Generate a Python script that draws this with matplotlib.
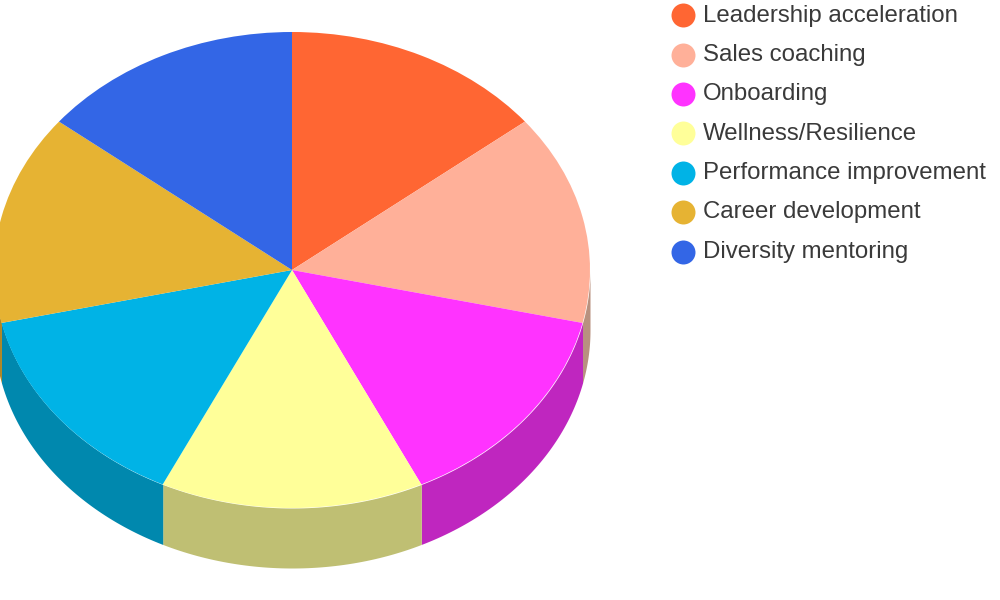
import numpy as np
from matplotlib import pyplot as plt

labels = ['Leadership acceleration', 'Sales coaching', 'Onboarding', 'Wellness/Resilience',
          'Performance improvement', 'Career development', 'Diversity mentoring']
values = [1, 1, 1, 1, 1, 1, 1]
colors = ['#FF6633', '#FFB099', '#FF33FF', '#FFFF99', '#00B3E6', '#E6B333', '#3366E6']
side_colors = ['#BF4D26', '#B8917F', '#BF26BF', '#BFBF73', '#0088AE', '#AD8626', '#264DAD']

W, H = 1000, 600
cx, cy = 292, 270    # pie centre in pixels
rx, ry = 298, 238    # the squashed radii
depth = 60 / ry      # side height, in pie units

fig = plt.figure(figsize=(W / 100, H / 100), dpi=100)
ax = fig.add_axes([(cx - rx) / W, (H - cy - ry) / H, 2 * rx / W, 2 * ry / H])

# wedge edges, clockwise from 12 o'clock like the pie itself
edges = 90 - 360 * np.cumsum([0] + values) / sum(values)

# side wall: only the part of each wedge below the horizontal shows
for i in range(len(values)):
    hi = min(edges[i], 0)
    lo = max(edges[i + 1], -180)
    if hi <= lo:
        continue
    t = np.radians(np.linspace(lo, hi, 60))
    ax.fill_between(np.cos(t), np.sin(t), np.sin(t) - depth, color=side_colors[i], lw=0, clip_on=False)

ax.pie(values, colors=colors, startangle=90, counterclock=False, radius=1,
       wedgeprops={'linewidth': 0})
ax.set_aspect('auto')
ax.set_xlim(-1, 1)
ax.set_ylim(-1, 1)
ax.axis('off')
for p in ax.patches:
    p.set_clip_on(False)

# legend, laid out by hand in pixel coordinates
leg = fig.add_axes([0, 0, 1, 1], facecolor='none')
leg.set_xlim(0, W)
leg.set_ylim(H, 0)
leg.axis('off')
legend_y = [15.3, 54.7, 94, 133.3, 172.7, 212, 251.5]
for name, col, y in zip(labels, colors, legend_y):
    leg.scatter([682.7], [y], s=298, color=col, linewidths=0)
    leg.text(703, y + 6.4, name, fontsize=17.3, family='Liberation Sans', color='#3a3a3a',
             va='baseline', ha='left')

fig.savefig('out.png', dpi=100)
